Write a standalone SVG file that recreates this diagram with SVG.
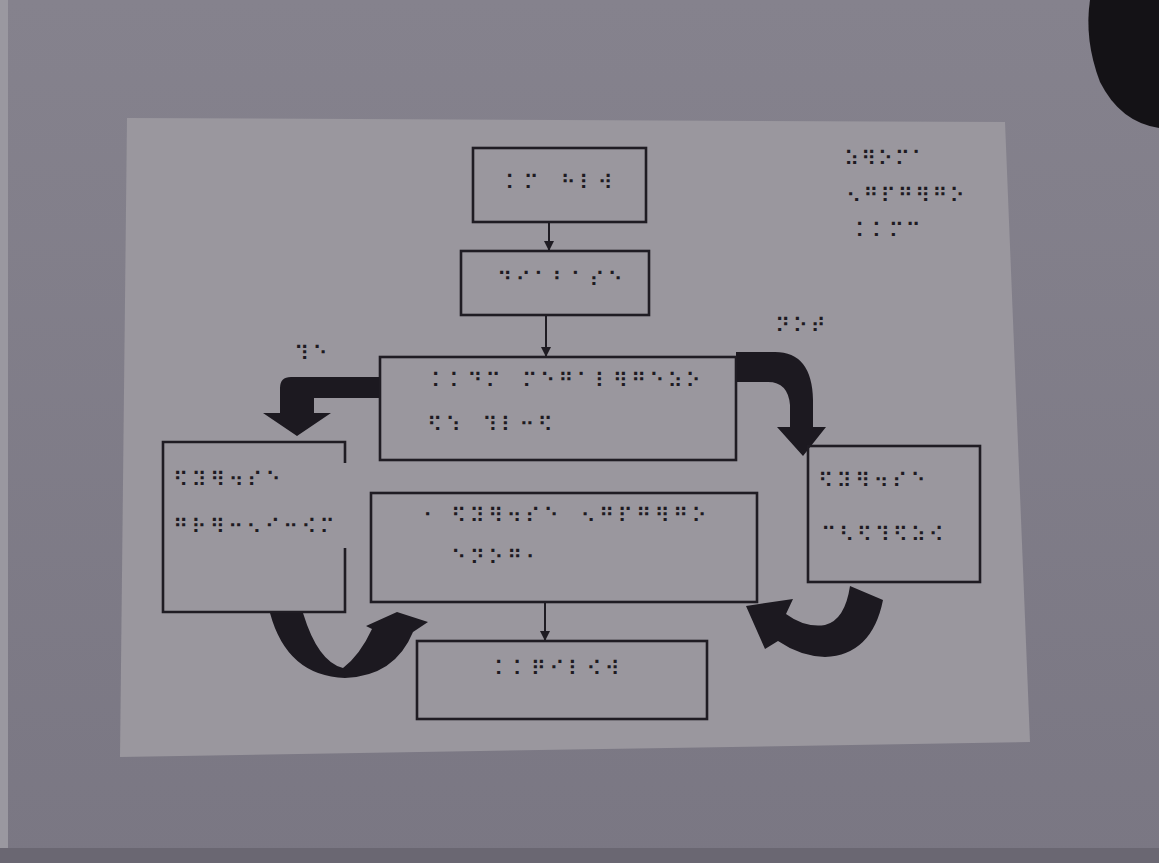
<svg xmlns="http://www.w3.org/2000/svg" width="1159" height="863" viewBox="0 0 1159 863">
<defs>
<style>
.box{fill:none;stroke:#1f1c23;stroke-width:2.6}
.br{font-family:"DejaVu Sans",sans-serif;font-size:21px;fill:#1d1a21;dominant-baseline:central}
.thick{fill:#1c1920}
.thin{stroke:#1f1c23;stroke-width:2;fill:none}
</style>
<marker id="ah" viewBox="0 0 10 10" refX="9" refY="5" markerWidth="5" markerHeight="5" orient="auto" markerUnits="strokeWidth">
<path d="M0,0 L10,5 L0,10 Z" fill="#1f1c23"/>
</marker>
<linearGradient id="bg" x1="0" y1="0" x2="0" y2="1">
<stop offset="0" stop-color="#85828d"/>
<stop offset="1" stop-color="#7a7783"/>
</linearGradient>
</defs>
<rect x="0" y="0" width="1159" height="863" fill="url(#bg)"/>
<rect x="0" y="0" width="8" height="863" fill="#9a98a0"/>
<rect x="0" y="848" width="1159" height="15" fill="#6a6772"/>
<path d="M1090,0 L1159,0 L1159,128 Q1120,122 1100,82 Q1084,40 1090,0 Z" fill="#141216"/>
<polygon points="127,118 1005,122 1030,742 120,757" fill="#9a979e"/>

<g id="connectors">
<line class="thin" x1="549" y1="222" x2="549" y2="250" marker-end="url(#ah)"/>
<line class="thin" x1="546" y1="315" x2="546" y2="356" marker-end="url(#ah)"/>
<line class="thin" x1="545" y1="603" x2="545" y2="640" marker-end="url(#ah)"/>
<path class="thick" d="M380,377 L291,377 Q280,377 280,388 L280,413 L263,413 L297,436 L331,413 L314,413 L314,398 L380,398 Z"/>
<path class="thick" d="M736,352 L775,352 Q812,352 813,400 L813,427 L826,427 L803,456 L777,427 L790,427 L790,405 Q788,382 768,382 L736,382 Z"/>
<path class="thick" d="M270,613 L303,613 Q318,662 343,668 Q360,655 372,629 L366,626 L397,612 L428,622 L413,632 Q395,676 345,678 Q287,676 270,613 Z"/>
<path class="thick" d="M850,586 L883,600 Q872,655 825,657 Q800,656 778,641 L765,649 L746,606 L793,599 L786,614 Q805,628 825,625 Q845,620 850,586 Z"/>
<text class="br" x="294" y="354" textLength="34">⠹⠑</text>
<text class="br" x="775" y="326" textLength="51">⠝⠕⠞</text>
</g>

<g id="start">
<rect class="box" x="473" y="148" width="173" height="74"/>
<text class="br" x="505" y="183" textLength="108">⠅⠍⠀⠓⠇⠺</text>
</g>
<g id="step2">
<rect class="box" x="461" y="251" width="188" height="64"/>
<text class="br" x="497" y="280" textLength="126">⠙⠊⠁⠃⠁⠎⠑</text>
</g>
<g id="decision">
<rect class="box" x="380" y="357" width="356" height="103"/>
<text class="br" x="431" y="381" textLength="270">⠅⠅⠙⠍⠀⠍⠑⠛⠁⠇⠻⠛⠑⠵⠕</text>
<text class="br" x="427" y="425" textLength="126">⠫⠱⠀⠹⠇⠒⠫</text>
</g>
<g id="legend">
<text class="br" x="844" y="159" textLength="83">⠵⠻⠕⠍⠁</text>
<text class="br" x="846" y="196" textLength="119">⠢⠛⠏⠛⠻⠛⠕</text>
<text class="br" x="855" y="231" textLength="66">⠅⠅⠍⠉</text>
</g>
<g id="left">
<path class="box" d="M345,463 L345,442 L163,442 L163,612 L345,612 L345,548"/>
<text class="br" x="173" y="480" textLength="108">⠫⠽⠻⠲⠎⠑</text>
<text class="br" x="173" y="527" textLength="162">⠛⠗⠻⠒⠢⠊⠒⠪⠍</text>
</g>
<g id="middle">
<rect class="box" x="371" y="493" width="386" height="109"/>
<text class="br" x="423" y="516">⠂</text>
<text class="br" x="451" y="516" textLength="256">⠫⠽⠻⠲⠎⠑⠀⠢⠛⠏⠛⠻⠛⠕</text>
<text class="br" x="451" y="558" textLength="90">⠑⠝⠕⠛⠂</text>
</g>
<g id="right">
<rect class="box" x="808" y="446" width="172" height="136"/>
<text class="br" x="818" y="481" textLength="108">⠫⠽⠻⠲⠎⠑</text>
<text class="br" x="821" y="535" textLength="123">⠉⠣⠫⠹⠫⠵⠪</text>
</g>
<g id="end">
<rect class="box" x="417" y="641" width="290" height="78"/>
<text class="br" x="494" y="669" textLength="126">⠅⠅⠟⠊⠇⠪⠺</text>
</g>
</svg>
